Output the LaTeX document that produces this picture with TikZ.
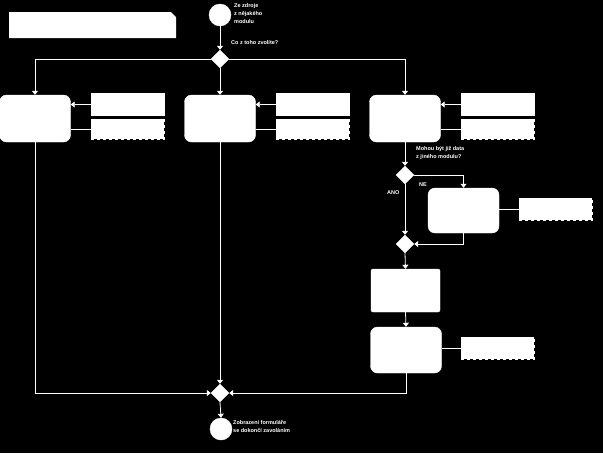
\documentclass[tikz,border=0pt]{standalone}
\usepackage{fontspec}
\setmainfont{Liberation Sans}
\usetikzlibrary{arrows.meta,shapes.geometric,calc}
\begin{document}
\begin{tikzpicture}[x=1pt,y=-1pt,
  line/.style={white, line width=0.8pt},
  arr/.style={line, -{Triangle[width=6pt,length=4pt]}},
  actbox/.style={draw=white, fill=white, rounded corners=7pt, minimum width=71pt, minimum height=47pt, inner sep=0pt},
  rectbox/.style={draw=white, fill=white, rounded corners=2pt, minimum width=69pt, minimum height=43pt, inner sep=0pt},
  notebox/.style={draw=white, fill=white, minimum width=73pt, minimum height=22pt, inner sep=0pt},
  dnote/.style={notebox, dashed, line width=1pt},
  dec/.style={diamond, draw=white, fill=white, minimum width=18pt, minimum height=18pt, inner sep=0pt},
  term/.style={circle, draw=white, fill=white, minimum size=22pt, inner sep=0pt},
  lbl/.style={text=white, font=\fontsize{5.5}{8}\selectfont\bfseries, align=left, inner sep=0pt}
]
\fill[black] (0,0) rectangle (603,453);
\useasboundingbox (0,0) rectangle (603,453);

% title note
\fill[white] (9,12) -- (171,12) -- (176,17) -- (176,38) -- (9,38) -- cycle;

% nodes
\node[term] (start) at (220,15) {};
\node[dec] (d1) at (220,59) {};
\node[actbox] (a1) at (35,118.5) {};
\node[actbox] (a2) at (220,118.5) {};
\node[actbox] (a3) at (405,118.5) {};
\node[notebox] (n1a) at (127.5,104.5) {};
\node[dnote, minimum height=20pt] (n1b) at (127.5,129) {};
\node[notebox] (n2a) at (312.5,104.5) {};
\node[dnote, minimum height=20pt] (n2b) at (312.5,129) {};
\node[notebox] (n3a) at (497.5,104.5) {};
\node[dnote, minimum height=20pt] (n3b) at (497.5,129) {};
\node[dec] (d2) at (405,175) {};
\node[actbox, minimum height=45pt] (a4) at (463.5,210.5) {};
\node[dnote] (n4) at (555.5,209) {};
\node[dec] (m2) at (405,244) {};
\node[rectbox] (b5) at (405.5,290.5) {};
\node[actbox, minimum height=46pt] (a6) at (406,350) {};
\node[dnote] (n6) at (497.5,348) {};
\node[dec] (m3) at (220,393) {};
\node[term] (end) at (221,429) {};

% connectors
\draw[arr] (start) -- (d1.north);
\draw[arr] (d1.west) -| (a1.north);
\draw[arr] (d1.south) -- (a2.north);
\draw[arr] (d1.east) -| (a3.north);
\draw[arr] (n1a.west) -- (n1a.west -| a1.east);
\draw[line] (a1.east |- n1b) -- (n1b.west);
\draw[arr] (n2a.west) -- (n2a.west -| a2.east);
\draw[line] (a2.east |- n2b) -- (n2b.west);
\draw[arr] (n3a.west) -- (n3a.west -| a3.east);
\draw[line] (a3.east |- n3b) -- (n3b.west);
\draw[arr] (a1.south) |- (m3.west);
\draw[arr] (a2.south) -- (m3.north);
\draw[arr] (a3.south) -- (d2.north);
\draw[arr] (d2.east) -| (a4.north);
\draw[line] (a4.east |- n4) -- (n4.west);
\draw[arr] (a4.south) |- (m2.east);
\draw[arr] (d2.south) -- (m2.north);
\draw[arr] (m2.south) -- (b5.north);
\draw[arr] (b5.south) -- (a6.north);
\draw[line] (a6.east |- n6) -- (n6.west);
\draw[arr] (a6.south) |- (m3.east);
\draw[arr] (m3.south) -- (end.north);

% labels
\node[lbl, anchor=north west] (ls) at (234,3) {Ze zdroje\\z nějakého\\modulu};
\node[lbl, anchor=west] (l1) at (231,43) {Co z toho zvolíte?};
\node[lbl, anchor=north west] (l2) at (416,146) {Mohou být již data\\z jiného modulu?};
\node[lbl, anchor=west] (lne) at (419,185) {NE};
\node[lbl, anchor=west] (lano) at (387,193) {ANO};
\node[lbl, anchor=north west] (le) at (233,420) {Zobrazení formuláře\\se dokončí zavoláním};
\end{tikzpicture}
\end{document}
